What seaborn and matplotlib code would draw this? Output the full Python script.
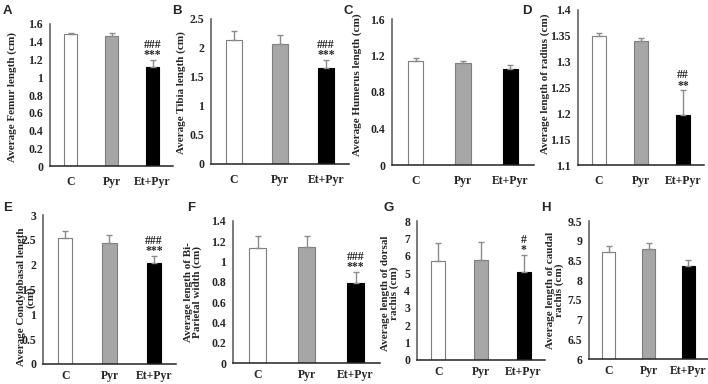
import numpy as np
import pandas as pd
import seaborn as sns
import matplotlib.pyplot as plt
from matplotlib.ticker import MultipleLocator, FuncFormatter

sns.set_style('white')
plt.rcParams['font.family'] = ['Liberation Serif', 'DejaVu Serif']
plt.rcParams['font.weight'] = 'bold'

# data
groups = ['C', 'Pyr', 'Et+Pyr']
femur = [1.49, 1.47, 1.11]
femur_err = [0.005, 0.03, 0.09]
tibia = [2.14, 2.07, 1.65]
tibia_err = [0.15, 0.15, 0.15]
humerus = [1.14, 1.12, 1.05]
humerus_err = [0.03, 0.02, 0.05]
radius = [1.35, 1.34, 1.197]
radius_err = [0.006, 0.006, 0.048]
condylo = [2.53, 2.44, 2.04]
condylo_err = [0.15, 0.15, 0.14]
biparietal = [1.13, 1.14, 0.79]
biparietal_err = [0.12, 0.115, 0.11]
dorsal = [5.72, 5.78, 5.08]
dorsal_err = [1.0, 1.0, 0.98]
caudal = [8.72, 8.80, 8.36]
caudal_err = [0.15, 0.14, 0.14]

bar_colors = ['#ffffff', '#a6a6a6', '#000000']
edge_colors = ['#7f7f7f', '#7f7f7f', '#000000']

W, H = 708, 384
fig = plt.figure(figsize=(W / 100, H / 100), dpi=100)

# (letter, values, errors, ylabel, ylim, step, marks, axes box px, ylabel centre px, letter xy px)
panels = [
    ('A', femur, femur_err, 'Average Femur length (cm)', (0, 1.6), 0.2, ('###', '***'),
     (50, 24, 173, 166), (12, 97), (3, 11)),
    ('B', tibia, tibia_err, 'Average Tibia length (cm)', (0, 2.5), 0.5, ('###', '***'),
     (211, 19, 349, 164), (181, 93), (172, 11)),
    ('C', humerus, humerus_err, 'Average Humerus length (cm)', (0, 1.6), 0.4, None,
     (392, 19, 534, 165), (357, 85), (343, 11)),
    ('D', radius, radius_err, 'Average length of radius (cm)', (1.1, 1.4), 0.05, ('##', '**'),
     (578, 10, 704, 165), (545, 84), (522, 11)),
    ('E', condylo, condylo_err, 'Average Condylobasal length\n(cm)', (0, 3), 0.5, ('###', '***'),
     (43, 215, 176, 364), (26, 297), (3, 208)),
    ('F', biparietal, biparietal_err, 'Average length of Bi-\nParietal width (cm)', (0, 1.4), 0.2,
     ('###', '***'), (233, 221, 380, 363), (193, 292), (187, 208)),
    ('G', dorsal, dorsal_err, 'Average length of dorsal\nrachis (cm)', (0, 8), 1, ('#', '*'),
     (417, 221, 545, 360), (390, 293), (383, 208)),
    ('H', caudal, caudal_err, 'Average length of caudal\nrachis (cm)', (6, 9.5), 0.5, None,
     (589, 221, 708, 359), (555, 290), (541, 208)),
]

for letter, vals, errs, ylab, ylim, step, marks, box, lab_xy, let_xy in panels:
    l, t, r, b = box
    ax = fig.add_axes([l / W, 1 - b / H, (r - l) / W, (b - t) / H])
    df = pd.DataFrame({'group': groups, 'value': vals})
    sns.barplot(data=df, x='group', y='value', hue='group', palette=bar_colors,
                width=0.33, errorbar=None, legend=False, ax=ax)
    for patch, ec in zip(ax.patches, edge_colors):
        patch.set_edgecolor(ec)
        patch.set_linewidth(0.8)
    ax.errorbar(range(3), vals, yerr=[np.zeros(3), errs], fmt='none',
                ecolor='#8c8c8c', elinewidth=1, capsize=2.5, capthick=1)
    ax.set_ylim(*ylim)
    ax.set_xlim(-0.5, 2.5)
    ax.yaxis.set_major_locator(MultipleLocator(step))
    ax.yaxis.set_major_formatter(FuncFormatter(lambda v, p: f'{round(v, 3):g}'))
    ax.set_xlabel('')
    ax.set_ylabel('')
    for s in ['top', 'right']:
        ax.spines[s].set_visible(False)
    ax.spines['left'].set_color('#555555')
    ax.spines['bottom'].set_color('#222222')
    ax.spines['left'].set_linewidth(1.1)
    ax.spines['bottom'].set_linewidth(1.1)
    top_row = t < 100
    ax.tick_params(axis='y', length=0, pad=5, labelsize=8.5)
    ax.tick_params(axis='x', length=0, pad=7 if top_row else 4.5, labelsize=8.5)
    for lbl in ax.get_xticklabels() + ax.get_yticklabels():
        lbl.set_fontweight('bold')
    if marks:
        top = vals[2] + errs[2]
        ax.annotate(marks[1], xy=(2, top), xytext=(0, 1), textcoords='offset points',
                    ha='center', va='baseline', fontsize=8.5, fontweight='bold')
        ax.annotate(marks[0], xy=(2, top), xytext=(0, 8.5), textcoords='offset points',
                    ha='center', va='baseline', fontsize=8.5, fontweight='bold')
    fig.text(lab_xy[0] / W, 1 - lab_xy[1] / H, ylab, rotation=90, ha='center', va='center',
             multialignment='center', fontsize=8, fontweight='bold', linespacing=1.0)
    fig.text(let_xy[0] / W, 1 - let_xy[1] / H, letter, ha='left', va='center',
             fontsize=9.5, fontweight='bold', family=['Liberation Sans', 'DejaVu Sans'])

fig.savefig('out.png', dpi=100)
